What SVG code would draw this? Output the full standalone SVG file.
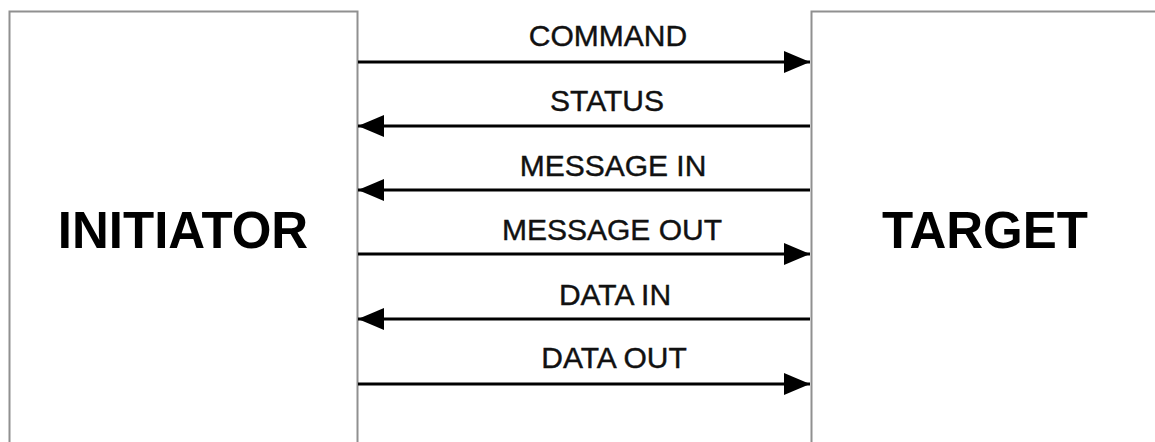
<svg xmlns="http://www.w3.org/2000/svg" width="1155" height="442" viewBox="0 0 1155 442">
  <style>
    .box { fill: #ffffff; stroke: #909090; stroke-width: 2; }
    .title { font-family: "Liberation Sans", Arial, sans-serif; font-weight: bold; font-size: 51px; fill: #000; text-anchor: middle; }
    .label { font-family: "Liberation Sans", Arial, sans-serif; font-size: 30px; fill: #111; stroke: #111; stroke-width: 0.4; text-anchor: middle; }
    .sig { stroke: #000; stroke-width: 3; fill: none; marker-end: url(#head); }
  </style>
  <defs>
    <marker id="head" markerUnits="userSpaceOnUse" markerWidth="26" markerHeight="22" viewBox="0 0 26 22" refX="26" refY="11" orient="auto">
      <path d="M0,0 L26,11 L0,22 Z" fill="#000"/>
    </marker>
  </defs>
  <rect width="1155" height="442" fill="#ffffff"/>

  <!-- Initiator -->
  <g id="initiator">
    <rect class="box" x="9.5" y="11.5" width="348" height="450"/>
    <text class="title" x="183" y="248">INITIATOR</text>
  </g>

  <!-- Target -->
  <g id="target">
    <rect class="box" x="811.5" y="11.5" width="360" height="450"/>
    <text class="title" x="985" y="248">TARGET</text>
  </g>

  <!-- Bus phases -->
  <g id="connectors">
    <line class="sig" x1="358" y1="62" x2="810" y2="62"/>
    <text class="label" x="608" y="46">COMMAND</text>

    <line class="sig" x1="810" y1="126" x2="358" y2="126"/>
    <text class="label" x="607" y="111">STATUS</text>

    <line class="sig" x1="810" y1="190" x2="358" y2="190"/>
    <text class="label" x="613" y="176">MESSAGE IN</text>

    <line class="sig" x1="358" y1="254" x2="810" y2="254"/>
    <text class="label" x="612" y="240">MESSAGE OUT</text>

    <line class="sig" x1="810" y1="319" x2="358" y2="319"/>
    <text class="label" x="615" y="305">DATA IN</text>

    <line class="sig" x1="358" y1="384" x2="810" y2="384"/>
    <text class="label" x="614" y="368">DATA OUT</text>
  </g>
</svg>
